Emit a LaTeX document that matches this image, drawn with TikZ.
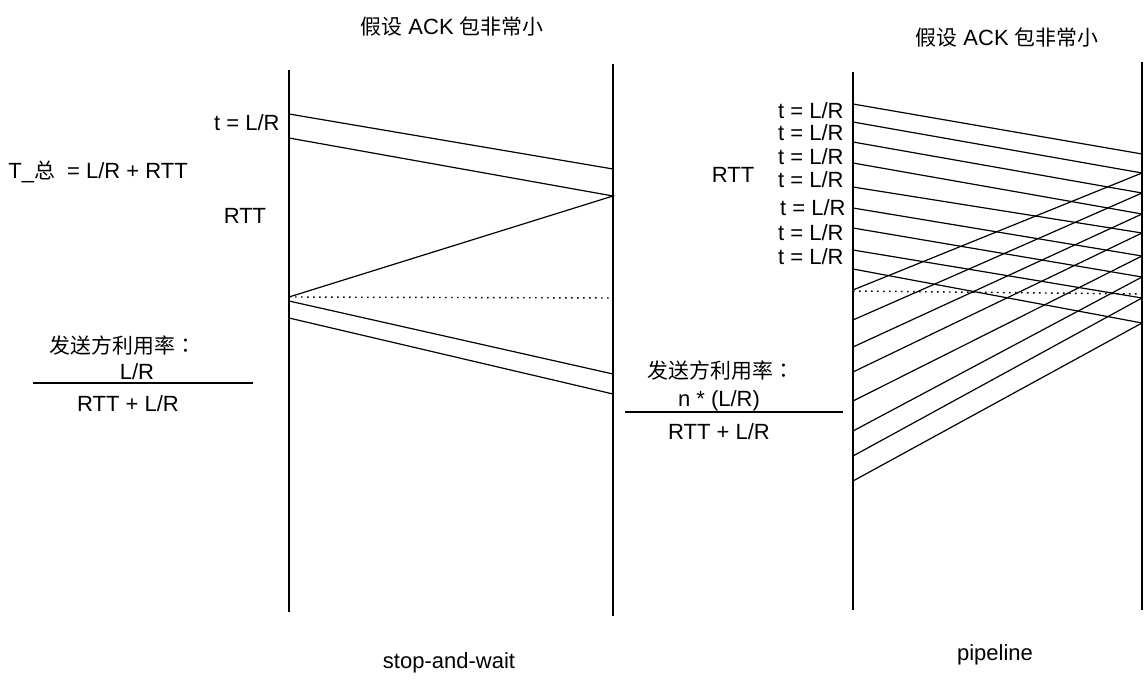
\documentclass[tikz,border=0pt]{standalone}
\usepackage{fontspec}
\setmainfont{Liberation Sans}
\newfontfamily\cjk[Scale=0.95]{Noto Sans CJK SC}
\newfontfamily\cjkpunct[Scale=0.95]{Noto Sans CJK TC}

\begin{document}
\begin{tikzpicture}[x=0.5pt,y=-0.5pt,
  every node/.append style={font=\fontsize{11}{13}\selectfont, inner sep=0pt, text=black},
  lifeline/.style={draw,line width=0.6pt},
  packet/.style={draw,line width=0.6pt},
  rttmark/.style={draw,line width=0.7pt,dash pattern=on 0.8pt off 2.2pt},
  fracbar/.style={draw,line width=0.6pt}]
\useasboundingbox (0,0) rectangle (1147,684);

\coordinate (sw-sendtop) at (289,70);
\coordinate (sw-sendbot) at (289,612);
\coordinate (sw-recvtop) at (613,64);
\coordinate (sw-recvbot) at (613,616);
\coordinate (sw-p1s) at (289,114);
\coordinate (sw-p1e) at (613,169);
\coordinate (sw-p2s) at (289,138);
\coordinate (sw-p2e) at (613,196);
\coordinate (sw-ack) at (289,297);
\coordinate (sw-rtt) at (613,298);
\coordinate (sw-p3s) at (289,301);
\coordinate (sw-p3e) at (613,374);
\coordinate (sw-p4s) at (289,318);
\coordinate (sw-p4e) at (613,394);

\draw[lifeline] (sw-sendtop) -- (sw-sendbot);
\draw[lifeline] (sw-recvtop) -- (sw-recvbot);
\draw[packet] (sw-p1s) -- (sw-p1e);
\draw[packet] (sw-p2s) -- (sw-p2e) -- (sw-ack);
\draw[rttmark] (sw-ack) -- (sw-rtt);
\draw[packet] (sw-p3s) -- (sw-p3e);
\draw[packet] (sw-p4s) -- (sw-p4e);

\node (sw-title) at (452,27) {{\cjk 假设} ACK {\cjk 包非常小}};
\node[anchor=east] (sw-tlabel) at (280,123) {t = L/R};
\node[anchor=west] (sw-total) at (8,172) {T\_{\cjk 总}\ \ = L/R + RTT};
\node (sw-rttlabel) at (245,216) {RTT};
\node (sw-util) at (123,346) {{\cjk 发送方利用率}{\cjkpunct ：}};
\node (sw-num) at (137,372) {L/R};
\coordinate (sw-barl) at (33,383);
\coordinate (sw-barr) at (253,383);
\draw[fracbar] (sw-barl) -- (sw-barr);
\node (sw-den) at (128,404) {RTT + L/R};
\node (sw-name) at (449,663) {stop-and-wait};

\coordinate (pl-sendtop) at (853,72);
\coordinate (pl-sendbot) at (853,610);
\coordinate (pl-recvtop) at (1142,62);
\coordinate (pl-recvbot) at (1142,610);
\draw[lifeline] (pl-sendtop) -- (pl-sendbot);
\draw[lifeline] (pl-recvtop) -- (pl-recvbot);

\foreach \i/\a/\b in {1/104/154,2/122/173,3/142/193,4/163/214,5/187/233,
                      6/208/256,7/228/277,8/250/298,9/269/323} {
  \coordinate (pl-p\i s) at (853,\a);
  \coordinate (pl-p\i e) at (1142,\b);
  \draw[packet] (pl-p\i s) -- (pl-p\i e);
}
\foreach \i/\y in {2/290,3/320,4/347,5/372,6/401,7/431,8/456,9/481} {
  \coordinate (pl-a\i) at (853,\y);
  \draw[packet] (pl-p\i e) -- (pl-a\i);
}
\coordinate (pl-rtts) at (853,291);
\coordinate (pl-rtte) at (1142,294);
\draw[rttmark] (pl-rtts) -- (pl-rtte);

\node (pl-title) at (1007,38) {{\cjk 假设} ACK {\cjk 包非常小}};
\foreach \k/\x/\y in {1/844/111,2/844/133,3/844/157,4/844/180,5/846/208,6/844/233,7/844/257}
  \node[anchor=east] (pl-tlabel\k) at (\x,\y) {t = L/R};
\node (pl-rttlabel) at (733,175) {RTT};
\node (pl-util) at (721,371) {{\cjk 发送方利用率}{\cjkpunct ：}};
\node (pl-num) at (719,401) {n * (L/R)};
\coordinate (pl-barl) at (625,412);
\coordinate (pl-barr) at (843,412);
\draw[fracbar] (pl-barl) -- (pl-barr);
\node (pl-den) at (719,432) {RTT + L/R};
\node (pl-name) at (995,655) {pipeline};
\end{tikzpicture}
\end{document}
